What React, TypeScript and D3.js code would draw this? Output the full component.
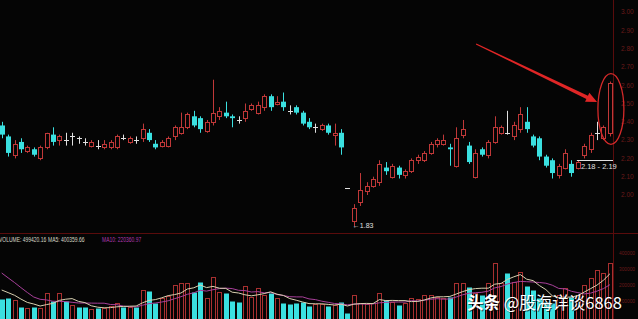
import React from 'react';
import * as d3 from 'd3';

// ---- data ----
const opens = [2.38,2.32,2.22,2.29,2.24,2.25,2.20,2.26,2.33,2.30,2.30,2.32,2.31,2.29,2.27,2.27,2.26,2.26,2.26,2.31,2.29,2.30,2.31,2.34,2.28,2.27,2.27,2.32,2.34,2.37,2.43,2.42,2.35,2.40,2.43,2.45,2.43,2.41,2.42,2.47,2.45,2.48,2.54,2.50,2.51,2.46,2.48,2.45,2.40,2.37,2.36,2.38,2.33,2.34,2.04,1.86,1.96,2.02,2.05,2.07,2.15,2.10,2.15,2.11,2.13,2.19,2.19,2.23,2.28,2.28,2.26,2.16,2.33,2.27,2.10,2.25,2.22,2.29,2.34,2.34,2.32,2.36,2.40,2.32,2.31,2.21,2.19,2.11,2.15,2.17,2.15,2.22,2.25,2.34,2.31,2.34];
const highs = [2.40,2.33,2.30,2.31,2.27,2.26,2.27,2.34,2.37,2.33,2.34,2.34,2.32,2.31,2.30,2.30,2.30,2.30,2.33,2.33,2.32,2.32,2.39,2.36,2.30,2.30,2.32,2.38,2.45,2.45,2.46,2.43,2.41,2.63,2.48,2.51,2.44,2.43,2.50,2.50,2.51,2.55,2.55,2.54,2.56,2.49,2.49,2.46,2.42,2.39,2.39,2.39,2.39,2.36,2.04,1.95,2.12,2.07,2.10,2.19,2.18,2.17,2.16,2.14,2.20,2.22,2.24,2.29,2.31,2.33,2.28,2.37,2.41,2.29,2.25,2.26,2.30,2.43,2.38,2.46,2.40,2.48,2.48,2.33,2.32,2.22,2.20,2.17,2.25,2.19,2.19,2.28,2.34,2.40,2.38,2.62];
const lows = [2.31,2.21,2.20,2.23,2.23,2.21,2.19,2.25,2.27,2.27,2.27,2.27,2.28,2.27,2.26,2.25,2.25,2.25,2.25,2.30,2.28,2.28,2.29,2.29,2.25,2.26,2.26,2.30,2.33,2.36,2.37,2.34,2.34,2.38,2.41,2.42,2.37,2.39,2.40,2.46,2.44,2.46,2.46,2.49,2.46,2.44,2.44,2.38,2.36,2.34,2.35,2.33,2.27,2.22,2.04,1.83,1.94,2.00,2.04,2.05,2.11,2.09,2.09,2.09,2.12,2.17,2.18,2.22,2.26,2.27,2.16,2.15,2.31,2.17,2.09,2.21,2.20,2.28,2.33,2.33,2.30,2.34,2.34,2.26,2.19,2.15,2.09,2.09,2.14,2.10,2.14,2.20,2.23,2.30,2.30,2.32];
const closes = [2.33,2.23,2.28,2.25,2.26,2.22,2.26,2.34,2.29,2.32,2.30,2.32,2.31,2.29,2.29,2.27,2.28,2.29,2.32,2.31,2.31,2.30,2.36,2.30,2.26,2.29,2.31,2.37,2.37,2.44,2.38,2.36,2.40,2.45,2.46,2.43,2.42,2.41,2.46,2.49,2.49,2.54,2.48,2.51,2.48,2.46,2.45,2.39,2.37,2.37,2.38,2.34,2.34,2.26,2.04,1.93,2.03,2.05,2.09,2.17,2.13,2.16,2.11,2.13,2.19,2.21,2.23,2.28,2.30,2.30,2.25,2.31,2.36,2.18,2.23,2.22,2.29,2.37,2.37,2.34,2.38,2.44,2.36,2.27,2.21,2.16,2.12,2.16,2.23,2.12,2.18,2.27,2.33,2.34,2.37,2.61];
const volumes = [112500,118750,106250,62500,56250,62500,56250,150000,100000,150000,100000,75000,62500,62500,50000,56250,56250,68750,87500,62500,62500,62500,168750,162500,87500,118750,131250,200000,212500,212500,156250,218750,118750,250000,156250,150000,100000,93750,193750,125000,181250,137500,150000,118750,87500,81250,87500,93750,68750,81250,81250,68750,75000,93750,25000,137500,87500,81250,87500,150000,106250,93750,75000,87500,118750,112500,137500,137500,125000,118750,125000,212500,212500,187500,150000,137500,212500,337500,212500,275000,218750,281250,193750,168750,118750,93750,87500,137500,181250,125000,137500,200000,243750,293750,275000,337500];
// volumes of the sessions just before the visible window (only feed the moving averages)
const prevVolumes = [420000,400000,380000,360000,346250,200000,190000,180000,161250];
const priceTicks = [3.0,2.9,2.8,2.7,2.6,2.5,2.4,2.3,2.2,2.1,2.0];
const volTicks = [400000,300000,200000,100000];
const volumeLabel = 'VOLUME: 499420.16';
const ma5Label = 'MA5: 400359.66';
const ma10Label = 'MA10: 220360.97';
const lowLabel = '\u21901.83';
const rangeLabel = '2.18 - 2.19';
const watermark = '\u5934\u6761 @\u80a1\u6d77\u8be6\u8c086868';

const W = 638, H = 319;
const BG = '#050505';
const RED = '#c03838';
const VRED = '#a83030';
const CYAN = '#3ae0e0';
const WHITE = '#e0e0e0';
const AXIS = '#5a0c0c';
const AXTXT = '#6a1a1a';

export default function App() {
  const N = opens.length;
  const x = d3.scaleLinear().domain([0, N - 1]).range([1.7, 609.9]);
  const y = d3.scaleLinear().domain([2.0, 3.0]).range([195, 12]);
  const yv = d3.scaleLinear().domain([0, 400000]).range([317, 253]);
  const cxOf = (i: number) => Math.round(x(i)) + 0.5;

  const all = prevVolumes.concat(volumes);
  const P = prevVolumes.length;
  const ma = (n: number) => volumes.map((_, i) => d3.mean(all.slice(Math.max(0, i + P - n + 1), i + P + 1)) as number);
  const ma5 = ma(5), ma10 = ma(10);
  const line = d3.line<number>().x((_, i) => x(i)).y(d => yv(d));

  const candles = opens.map((o, i) => {
    const c = closes[i], h = highs[i], l = lows[i];
    const cx = cxOf(i);
    const yH = y(h), yL = y(l);
    if (c === o) {
      const yy = Math.round(y(c)) + 0.5;
      return (
        <g key={i} stroke={WHITE} strokeWidth={1}>
          <line x1={cx} x2={cx} y1={yH} y2={yL} />
          <line x1={cx - 2.5} x2={cx + 2.5} y1={yy} y2={yy} />
        </g>
      );
    }
    if (c > o) {
      const t = Math.round(y(c)) + 0.5, b = Math.round(y(o)) + 0.5;
      return (
        <g key={i} stroke={RED} strokeWidth={1}>
          <line x1={cx} x2={cx} y1={yH} y2={t} />
          <line x1={cx} x2={cx} y1={b} y2={yL} />
          <rect x={cx - 2} y={t} width={4} height={Math.max(1, b - t)} fill={BG} />
        </g>
      );
    }
    const t = y(o), b = y(c);
    return (
      <g key={i}>
        <line x1={cx} x2={cx} y1={yH} y2={yL} stroke={CYAN} strokeWidth={1} />
        <rect x={cx - 2.5} y={t} width={5} height={Math.max(1.2, b - t)} fill={CYAN} />
      </g>
    );
  });

  const vbars = volumes.map((v, i) => {
    const o = opens[i], c = closes[i];
    const up = c > o || (c === o && (i === 0 || c >= closes[i - 1]));
    const cx = cxOf(i);
    const top = Math.round(yv(v)) + 0.5;
    return up ? (
      <rect key={i} x={cx - 2} y={top} width={4} height={H + 2 - top} fill="none" stroke={VRED} strokeWidth={1} />
    ) : (
      <rect key={i} x={cx - 2.5} y={top} width={5} height={H + 2 - top} fill={CYAN} />
    );
  });

  // annotation arrow, in data coordinates
  const aStart: [number, number] = [x(74.1), y(2.825)];
  const aTip: [number, number] = [x(93.0), y(2.508)];
  const dx = aTip[0] - aStart[0], dy = aTip[1] - aStart[1];
  const len = Math.hypot(dx, dy);
  const ux = dx / len, uy = dy / len, px = -uy, py = ux;
  const headL = 11, headW = 5, w0 = 0.6, w1 = 1.8;
  const bx = aTip[0] - ux * headL, by = aTip[1] - uy * headL;
  const arrowPts = [
    [aStart[0] + px * w0, aStart[1] + py * w0],
    [bx + px * w1, by + py * w1],
    [bx + px * headW, by + py * headW],
    aTip,
    [bx - px * headW, by - py * headW],
    [bx - px * w1, by - py * w1],
    [aStart[0] - px * w0, aStart[1] - py * w0],
  ].map(p => p.join(',')).join(' ');

  const last = N - 1;
  const ellCx = x(last) + 1;
  const ellCy = (y(highs[last]) + y(lows[last])) / 2;
  const ellRy = (y(lows[last]) - y(highs[last])) / 2 + 8;

  const font = "'Liberation Sans', Arial, sans-serif";
  const legend = [
    { t: volumeLabel, x: -1, c: '#d8d8c8' },
    { t: ma5Label, x: 48, c: '#d8d8c8' },
    { t: ma10Label, x: 102, c: '#b03ab0' },
  ];

  return (
    <svg width={W} height={H} viewBox={`0 0 ${W} ${H}`}
      style={{ position: 'fixed', left: 0, top: 0, display: 'block', background: BG }}>
      <rect x={0} y={0} width={W} height={H} fill={BG} />
      {/* frame lines */}
      <line x1={0} x2={W} y1={233.5} y2={233.5} stroke={AXIS} strokeWidth={1} />
      <line x1={613.5} x2={613.5} y1={0} y2={H} stroke={AXIS} strokeWidth={1} />

      {/* price axis labels */}
      <g fontFamily={font} fontSize={6.5} fill={AXTXT}>
        {priceTicks.map(t => (
          <text key={t} x={621} y={y(t) + 2.3}>{t.toFixed(2)}</text>
        ))}
      </g>
      <g fontFamily={font} fontSize={5.6} fill={AXTXT}>
        {volTicks.map(t => (
          <text key={t} x={619} y={yv(t) + 2} textLength={16} lengthAdjust="spacingAndGlyphs">{String(t)}</text>
        ))}
      </g>

      <clipPath id="main"><rect x={0} y={0} width={613} height={233} /></clipPath>
      <clipPath id="vol"><rect x={0} y={234} width={613} height={H - 234} /></clipPath>

      <g clipPath="url(#main)">{candles}</g>

      <g clipPath="url(#vol)">
        {vbars}
        <path d={line(ma10) || ''} fill="none" stroke="#a8409a" strokeWidth={1} />
        <path d={line(ma5) || ''} fill="none" stroke="#d8d0b0" strokeWidth={1} />
      </g>

      {/* volume legend */}
      <g fontFamily={font} fontSize={6.4}>
        {legend.map(l => (
          <text key={l.t} transform={`translate(${l.x},241.5) scale(0.78,1)`} fill={l.c}>{l.t}</text>
        ))}
      </g>

      {/* low label */}
      <text x={x(55) - 1} y={y(lows[55]) + 2} fontFamily={font} fontSize={7} fill={WHITE}>{lowLabel}</text>

      {/* range label */}
      <line x1={x(90) - 1} x2={613} y1={Math.round(y(2.19)) + 0.5} y2={Math.round(y(2.19)) + 0.5} stroke={WHITE} strokeWidth={1} />
      <text x={x(90) + 3} y={y(2.19) + 8.5} fontFamily={font} fontSize={7.5} fill={WHITE}>{rangeLabel}</text>

      {/* annotations */}
      <polygon points={arrowPts} fill="#e02626" />
      <ellipse cx={ellCx} cy={ellCy} rx={13} ry={ellRy} fill="none" stroke="#d42a2a" strokeWidth={1.3} />

      {/* watermark */}
      <g fontFamily="'Noto Sans CJK SC', sans-serif" fontSize={16.5}>
        <text x={468} y={310} fill="#000" opacity={0.6}>
          <tspan fontWeight="bold">{watermark.slice(0, 2)}</tspan>
          <tspan>{watermark.slice(2)}</tspan>
        </text>
        <text x={467} y={309} fill="#ffffff">
          <tspan fontWeight="bold">{watermark.slice(0, 2)}</tspan>
          <tspan>{watermark.slice(2)}</tspan>
        </text>
      </g>
    </svg>
  );
}
